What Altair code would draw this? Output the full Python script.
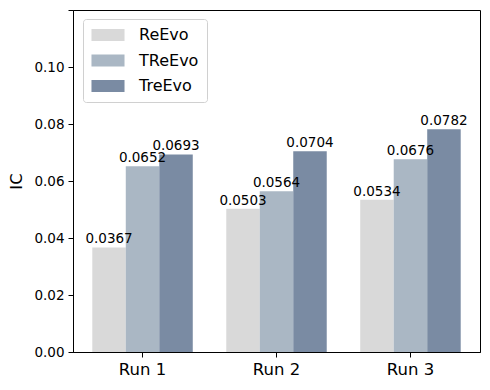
import altair as alt
import pandas as pd

runs = ["Run 1", "Run 2", "Run 3"]
methods = ["ReEvo", "TReEvo", "TreEvo"]
reevo = [0.0367, 0.0503, 0.0534]
treevo_cap = [0.0652, 0.0564, 0.0676]
treevo = [0.0693, 0.0704, 0.0782]
colors = ["#d9d9d9", "#aab7c4", "#7a8ba3"]
y_ticks = [0.0, 0.02, 0.04, 0.06, 0.08, 0.10, 0.12]

rows = []
for series, vals in zip(methods, [reevo, treevo_cap, treevo]):
    for r, v in zip(runs, vals):
        rows.append({"run": r, "method": series, "ic": v})
df = pd.DataFrame(rows)

FONT = "DejaVu Sans"

x = alt.X("run:N", sort=runs, title=None,
          scale=alt.Scale(paddingInner=0.25, paddingOuter=0.144),
          axis=alt.Axis(labelAngle=0, labelFontSize=16.5, labelColor="black",
                        tickColor="black", domainColor="black", tickSize=5,
                        labelPadding=4))
xo = alt.XOffset("method:N", sort=methods, scale=alt.Scale(paddingInner=0, paddingOuter=0))
y = alt.Y("ic:Q", title="IC",
          scale=alt.Scale(domain=[0, 0.12], nice=False),
          axis=alt.Axis(values=y_ticks, labelFontSize=13.5, labelColor="black",
                        tickColor="black", domainColor="black", tickSize=5,
                        labelPadding=4, grid=False,
                        labelExpr="datum.value > 0.119 ? '' : format(datum.value, '.2f')",
                        titleFontSize=16.5, titleFontWeight="normal", titleColor="black",
                        titlePadding=9))

bars = alt.Chart(df).mark_bar().encode(
    x=x, xOffset=xo, y=y,
    color=alt.Color("method:N", sort=methods,
                    scale=alt.Scale(domain=methods, range=colors),
                    legend=alt.Legend(title=None, orient="none", legendX=10, legendY=9,
                                      symbolType="M-2.36,-0.86H2.36V0.86H-2.36Z",
                                      symbolSize=196, symbolStrokeWidth=0,
                                      symbolOffset=9, labelOffset=23,
                                      labelFontSize=16, labelColor="black",
                                      rowPadding=9.5, padding=8,
                                      strokeColor="#d0d0d0", cornerRadius=3,
                                      fillColor="white")),
)

labels = alt.Chart(df).mark_text(baseline="alphabetic", dy=-4, fontSize=13.5,
                                 color="black", font=FONT).encode(
    x=alt.X("run:N", sort=runs), xOffset=alt.XOffset("method:N", sort=methods),
    y="ic:Q",
    text=alt.Text("ic:Q", format=".4f"),
)

chart = (bars + labels).properties(
    width=407, height=342,
    autosize=alt.AutoSizeParams(type="none"),
    padding={"left": 65, "top": 2, "right": 2, "bottom": 30},
).configure(font=FONT).configure_view(stroke="black", strokeWidth=1)

chart.save("out.html", embed_options={"renderer": "svg", "actions": False})
